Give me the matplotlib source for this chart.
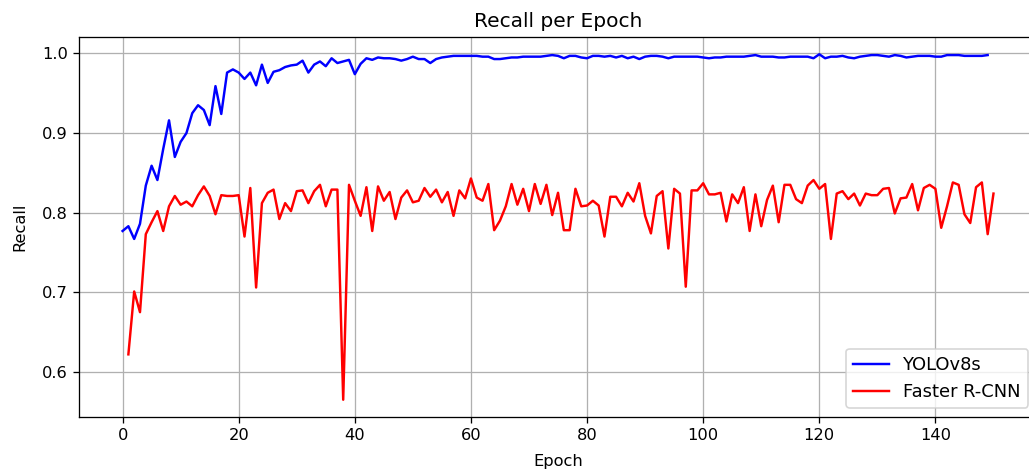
import numpy as np
import matplotlib.pyplot as plt

# YOLOv8s recall, epochs 0..149
yolo_recall = [
    0.777, 0.783, 0.767, 0.786, 0.834, 0.859, 0.841, 0.880, 0.916, 0.870,
    0.889, 0.900, 0.925, 0.935, 0.929, 0.910, 0.959, 0.924, 0.976, 0.980,
    0.976, 0.968, 0.976, 0.960, 0.986, 0.963, 0.977, 0.979, 0.983, 0.985,
    0.986, 0.991, 0.976, 0.986, 0.990, 0.984, 0.994, 0.988, 0.990, 0.992,
    0.974, 0.987, 0.994, 0.992, 0.995, 0.994, 0.994, 0.993, 0.991, 0.993,
    0.996, 0.993, 0.993, 0.988, 0.993, 0.995, 0.996, 0.997, 0.997, 0.997,
    0.997, 0.997, 0.996, 0.996, 0.993, 0.993, 0.994, 0.995, 0.995, 0.996,
    0.996, 0.996, 0.996, 0.997, 0.998, 0.997, 0.994, 0.997, 0.997, 0.995,
    0.994, 0.997, 0.997, 0.996, 0.997, 0.995, 0.997, 0.994, 0.996, 0.993,
    0.996, 0.997, 0.997, 0.996, 0.994, 0.996, 0.996, 0.996, 0.996, 0.996,
    0.995, 0.994, 0.995, 0.995, 0.996, 0.996, 0.996, 0.996, 0.997, 0.998,
    0.996, 0.996, 0.996, 0.995, 0.995, 0.996, 0.996, 0.996, 0.996, 0.994,
    0.999, 0.994, 0.996, 0.996, 0.997, 0.995, 0.994, 0.996, 0.997, 0.998,
    0.998, 0.997, 0.996, 0.998, 0.997, 0.995, 0.996, 0.997, 0.997, 0.997,
    0.996, 0.996, 0.998, 0.998, 0.998, 0.997, 0.997, 0.997, 0.997, 0.998,
]

# Faster R-CNN recall, epochs 1..150
frcnn_recall = [
    0.622, 0.701, 0.675, 0.773, 0.788, 0.802, 0.777, 0.808, 0.821, 0.810,
    0.814, 0.808, 0.822, 0.833, 0.821, 0.798, 0.822, 0.821, 0.821, 0.822,
    0.770, 0.831, 0.706, 0.812, 0.825, 0.829, 0.792, 0.812, 0.802, 0.827,
    0.828, 0.812, 0.827, 0.835, 0.808, 0.829, 0.829, 0.565, 0.835, 0.815,
    0.796, 0.832, 0.777, 0.833, 0.815, 0.826, 0.792, 0.819, 0.828, 0.813,
    0.815, 0.831, 0.820, 0.829, 0.813, 0.826, 0.796, 0.828, 0.818, 0.843,
    0.819, 0.815, 0.836, 0.778, 0.790, 0.808, 0.836, 0.810, 0.830, 0.802,
    0.836, 0.811, 0.835, 0.797, 0.825, 0.778, 0.778, 0.830, 0.808, 0.809,
    0.815, 0.809, 0.770, 0.820, 0.820, 0.808, 0.825, 0.814, 0.837, 0.796,
    0.774, 0.821, 0.827, 0.755, 0.830, 0.824, 0.707, 0.828, 0.828, 0.837,
    0.823, 0.823, 0.825, 0.789, 0.823, 0.812, 0.832, 0.777, 0.823, 0.783,
    0.816, 0.834, 0.788, 0.835, 0.835, 0.817, 0.812, 0.834, 0.841, 0.830,
    0.836, 0.767, 0.824, 0.827, 0.817, 0.824, 0.809, 0.824, 0.822, 0.822,
    0.830, 0.831, 0.799, 0.818, 0.819, 0.836, 0.803, 0.831, 0.835, 0.830,
    0.781, 0.808, 0.838, 0.835, 0.798, 0.787, 0.832, 0.838, 0.773, 0.824,
]

yolo_epochs = np.arange(0, len(yolo_recall))
frcnn_epochs = np.arange(1, len(frcnn_recall) + 1)

# dpi 117 so the default font sizes come out as big as in the reference
dpi = 117
fig = plt.figure(figsize=(1029 / dpi, 472 / dpi), dpi=dpi)
# right edge of the axes runs a little past the image, as in the reference
ax = fig.add_axes([0.0768, 0.1165, 0.931, 0.8051])

ax.plot(yolo_epochs, yolo_recall, color='blue', label='YOLOv8s')
ax.plot(frcnn_epochs, frcnn_recall, color='red', label='Faster R-CNN')

ax.set_title('Recall per Epoch', fontsize=12.4)
ax.set_xlabel('Epoch', labelpad=6.5)
ax.set_ylabel('Recall', labelpad=9)
ax.grid(True)
ax.legend(loc='lower right', fontsize=11)

fig.savefig('out.png', dpi=dpi)
